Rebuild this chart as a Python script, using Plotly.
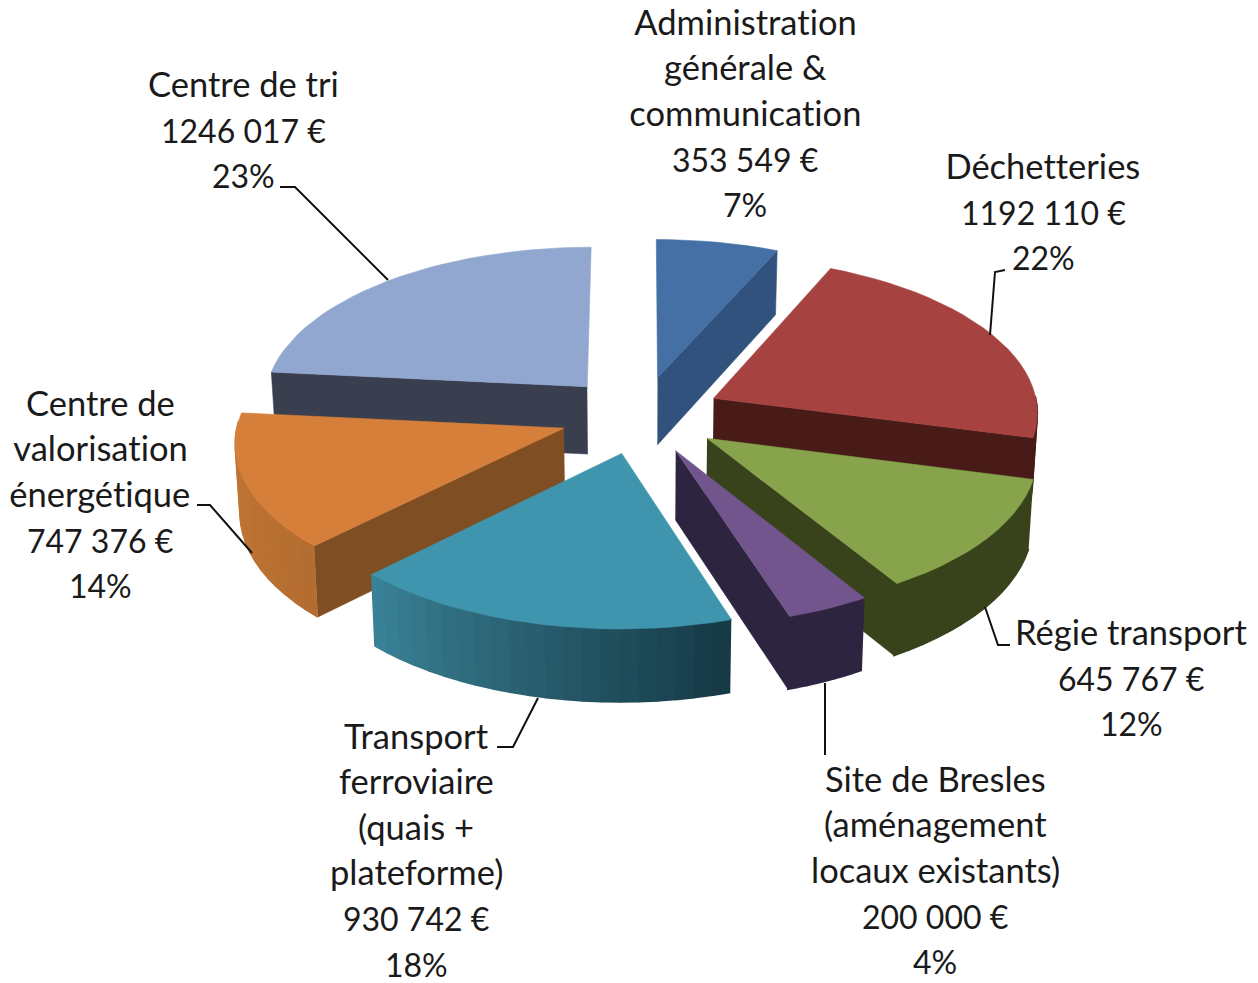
import math
import plotly.graph_objects as go

names = ["Administration générale & communication", "Déchetteries", "Régie transport",
         "Site de Bresles (aménagement locaux existants)", "Transport ferroviaire (quais + plateforme)",
         "Centre de valorisation énergétique", "Centre de tri"]
values = [353549, 1192110, 645767, 200000, 930742, 747376, 1246017]
label_lines = [
    ["Administration", "générale &", "communication", "353 549 €", "7%"],
    ["Déchetteries", "1192 110 €", "22%"],
    ["Régie transport", "645 767 €", "12%"],
    ["Site de Bresles", "(aménagement", "locaux existants)", "200 000 €", "4%"],
    ["Transport", "ferroviaire", "(quais +", "plateforme)", "930 742 €", "18%"],
    ["Centre de", "valorisation", "énergétique", "747 376 €", "14%"],
    ["Centre de tri", "1246 017 €", "23%"],
]
label_pos = [(745, 21), (1043, 165), (1131, 631), (935, 778), (416, 735), (100, 402), (243, 83)]
top_colors = ["#4470A5", "#A64341", "#87A34C", "#71558C", "#4095AE", "#D67F3A", "#92A7CF"]
wall_colors = ["#30527C", "#481B19", "#38431C", "#2D2540", None, "#7F4E22", "#3A3F50"]
arc_start = ["#30527C", "#481B19", "#38431C", "#2D2540", "#153844", "#B46D30", "#3A3F50"]
arc_end = ["#30527C", "#481B19", "#38431C", "#2D2540", "#3A8398", "#C47A36", "#3A3F50"]
draw_order = [0, 6, 1, 5, 2, 4, 3]
leaders = [
    [(280, 187), (295, 187), (388, 280)],
    [(1005, 270), (995, 272), (990, 335)],
    [(1010, 645), (998, 645), (985, 607)],
    [(825, 683), (825, 755)],
    [(538, 698), (513, 747), (497, 747)],
    [(197, 505), (210, 505), (252, 553)],
]

CX, CY, RX, RY, DEPTH, PERSP, VCONV, EXPLODE = 641, 415, 325, 155, 68, 0.08, 0.012, 0.25
FONT = "Lato"
FS_TEXT = 34.5
FS_NUM = 32
LINE = 45.6


def project(X, Y, z=0.0):
    s = 1 / (1 + PERSP * Y)
    zs = 1 / (1 + VCONV * z)
    return CX + RX * X * s * zs, CY - RY * Y * s * zs + DEPTH * z * s


def mix(a, b, t):
    ca = [int(a[i:i + 2], 16) for i in (1, 3, 5)]
    cb = [int(b[i:i + 2], 16) for i in (1, 3, 5)]
    return "rgb(%d,%d,%d)" % tuple(round(x + (y - x) * t) for x, y in zip(ca, cb))


def poly(fig, pts, color, width=0.6):
    fig.add_trace(go.Scatter(x=[p[0] for p in pts], y=[p[1] for p in pts], mode="lines",
                             fill="toself", fillcolor=color, line=dict(color=color, width=width),
                             hoverinfo="skip", showlegend=False))


total = sum(values)
bounds = [0.0]
for v in values:
    bounds.append(bounds[-1] + v / total * 2 * math.pi)

fig = go.Figure()
for i in draw_order:
    a0, a1 = bounds[i], bounds[i + 1]
    mid = (a0 + a1) / 2
    ox, oy = EXPLODE * math.sin(mid), EXPLODE * math.cos(mid)
    rim = lambda a: (ox + math.sin(a), oy + math.cos(a))
    steps = max(8, int((a1 - a0) / math.radians(3)))
    angs = [a0 + (a1 - a0) * k / steps for k in range(steps + 1)]
    # radial walls
    if math.cos(a1 + math.pi / 2) < 0 and wall_colors[i]:
        r = rim(a1)
        poly(fig, [project(ox, oy), project(*r), project(*r, 1), project(ox, oy, 1)], wall_colors[i])
    if math.cos(a0 - math.pi / 2) < 0 and wall_colors[i]:
        r = rim(a0)
        poly(fig, [project(ox, oy), project(*r), project(*r, 1), project(ox, oy, 1)], wall_colors[i])
    # outer rim, shaded strip by strip (overlapping so no seams show)
    front = [a for a in angs if math.cos(a) < 0.05]
    for k in range(len(front) - 1, 0, -1):
        u, v = front[k - 1], front[k]
        t = ((u + v) / 2 - a0) / (a1 - a0)
        pu, pv = rim(u), rim(v)
        c = mix(arc_start[i], arc_end[i], t)
        poly(fig, [project(*pu), project(*pv), project(*pv, 1), project(*pu, 1)], c, width=1.6)
    # top face
    poly(fig, [project(ox, oy)] + [project(*rim(a)) for a in angs] + [project(ox, oy)], top_colors[i])

annotations = []
for lines, (x, y) in zip(label_lines, label_pos):
    for n, text in enumerate(lines):
        is_num = text[0].isdigit()
        size = FS_NUM if is_num else FS_TEXT
        annotations.append(dict(x=x, y=y + n * LINE + (1.5 if is_num else 0), xref="x", yref="y",
                                text=text, showarrow=False, xanchor="center", yanchor="middle",
                                font=dict(family=FONT, size=size, color="#1a1a1a")))

shapes = []
for pts in leaders:
    path = "M " + " L ".join(f"{x},{y}" for x, y in pts)
    shapes.append(dict(type="path", path=path, xref="x", yref="y", line=dict(color="#111111", width=2)))

fig.update_layout(width=1258, height=983, margin=dict(l=0, r=0, t=0, b=0),
                  paper_bgcolor="white", plot_bgcolor="white", showlegend=False,
                  xaxis=dict(range=[0, 1258], visible=False, fixedrange=True),
                  yaxis=dict(range=[983, 0], visible=False, fixedrange=True),
                  annotations=annotations, shapes=shapes)
fig.write_html("out.html", config={"displayModeBar": False},
               post_script="document.body.style.margin='0';document.body.style.overflow='hidden';"
                           "document.querySelectorAll('text').forEach(function(t){"
                           "t.style.fontVariantLigatures='none';t.style.fontFeatureSettings='\"liga\" 0';});")
